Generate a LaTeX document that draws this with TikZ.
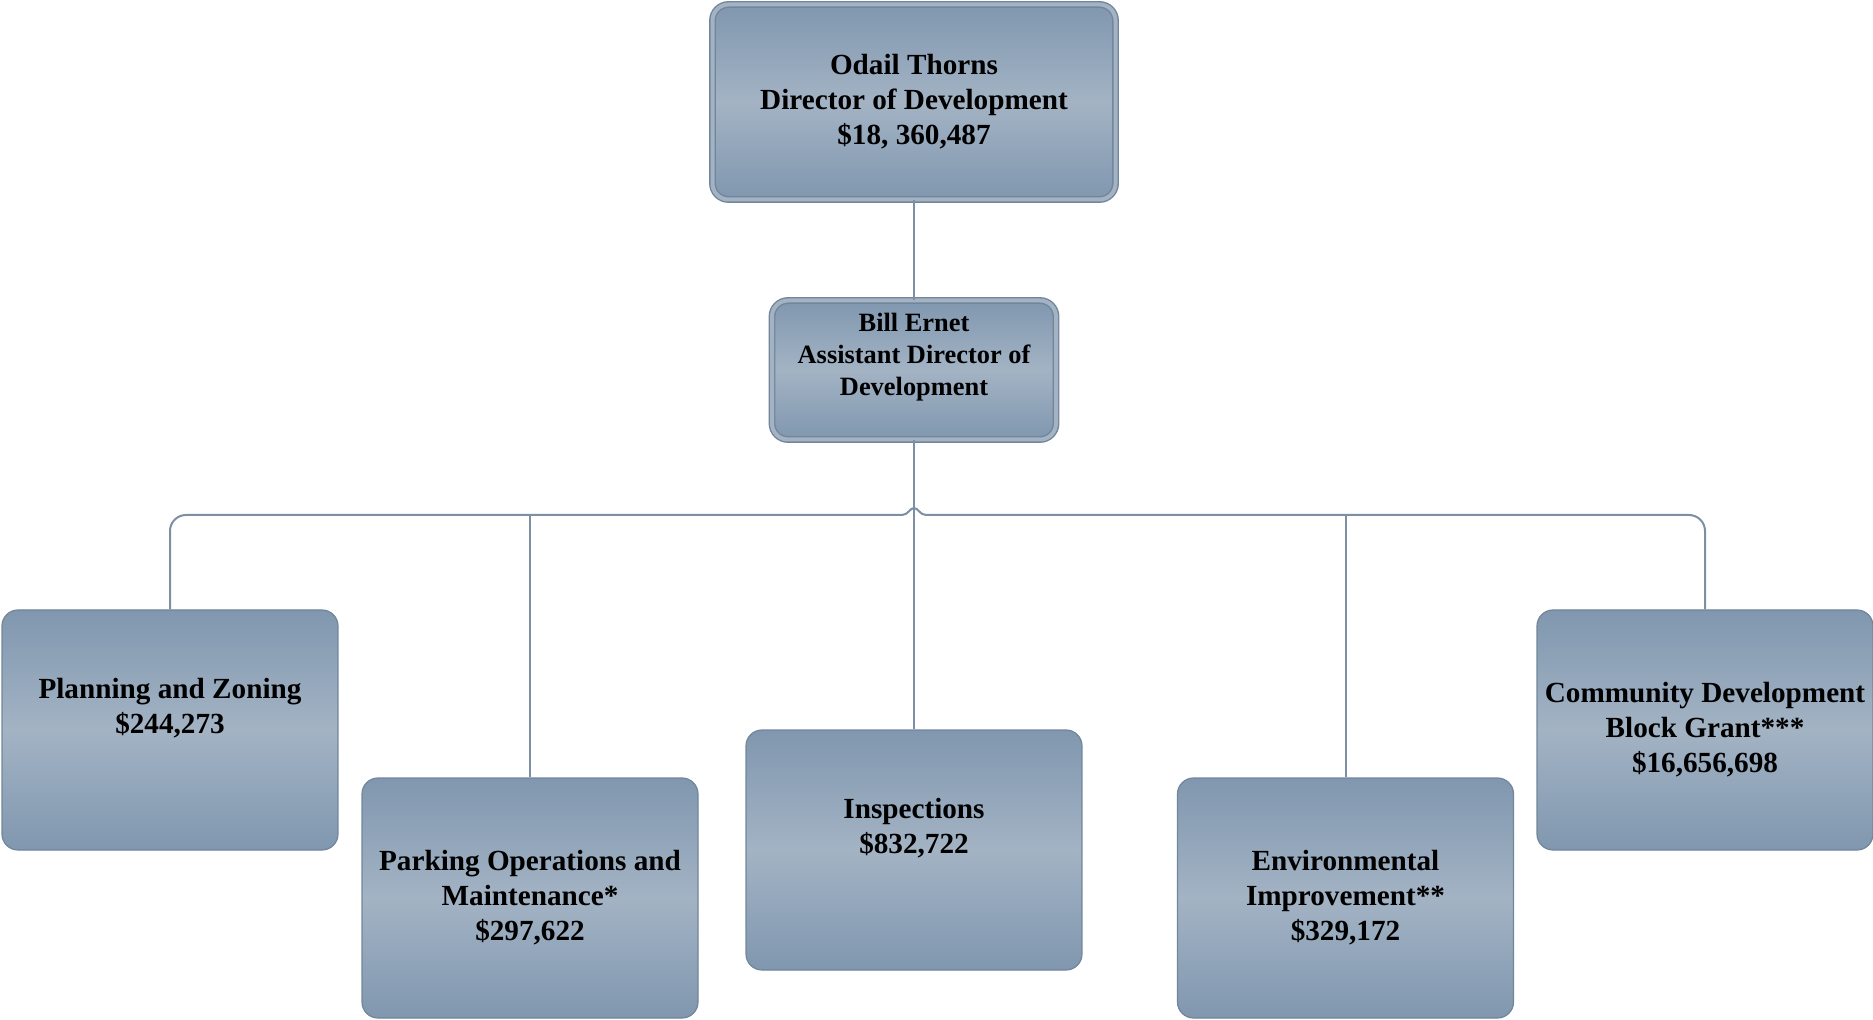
\documentclass[tikz,border=0pt]{standalone}
\usepackage{fontspec}
\setmainfont{Liberation Serif}
\definecolor{boxtop}{HTML}{8097AF}
\definecolor{boxmid}{HTML}{A3B3C4}
\definecolor{boxrim}{HTML}{71859B}
\definecolor{wirecol}{HTML}{7D8FA3}
\tikzset{
  unit/.style={rectangle, rounded corners=8pt, draw=boxrim, line width=0.6pt,
    top color=boxtop, bottom color=boxtop, middle color=boxmid,
    minimum width=168pt, minimum height=120pt, inner sep=0pt, align=center,
    font=\fontsize{14.6}{17.5}\selectfont\bfseries},
  head/.style={unit, double=boxmid, double distance=2pt, line width=0.7pt},
  wire/.style={draw=wirecol, line width=1pt},
}

\begin{document}
\begin{tikzpicture}[x=0.5pt,y=-0.5pt]
\useasboundingbox (0,0) rectangle (1873,1020);
\node[head, minimum width=201.5pt, minimum height=97.5pt] (dir) at (914,102)
  {Odail Thorns\\Director of Development\\\$18, 360,487};
\node[head, minimum width=142pt, minimum height=69.5pt,
  font=\fontsize{13.2}{16}\selectfont\bfseries] (asst) at (914,370)
  {Bill Ernet\\Assistant Director of\\Development\\ \mbox{}};
\node[unit] (plan) at (170,730) {Planning and Zoning\\\$244,273\\[7pt]\mbox{}};
\node[unit] (park) at (530,898) {Parking Operations and\\Maintenance*\\\$297,622};
\node[unit] (insp) at (914,850) {Inspections\\\$832,722\\[7pt]\mbox{}};
\node[unit] (env) at (1345.5,898) {Environmental\\Improvement**\\\$329,172};
\node[unit] (cdbg) at (1705,730) {Community Development\\Block Grant***\\\$16,656,698};
\coordinate (hopL) at (902,515);
\coordinate (hop) at (914,508);
\coordinate (hopR) at (926,515);
\draw[wire] (dir.south) -- (asst.north);
\draw[wire] (asst.south) -- (insp.north);
\draw[wire, rounded corners=8pt] (plan.north) |- (hopL);
\draw[wire] (hopL) .. controls (908,515) and (910,508) .. (hop)
  .. controls (918,508) and (920,515) .. (hopR);
\draw[wire, rounded corners=8pt] (hopR) -| (cdbg.north);
\draw[wire] (park.north) -- (park.north |- hopL);
\draw[wire] (env.north) -- (env.north |- hopR);
\end{tikzpicture}
\end{document}
